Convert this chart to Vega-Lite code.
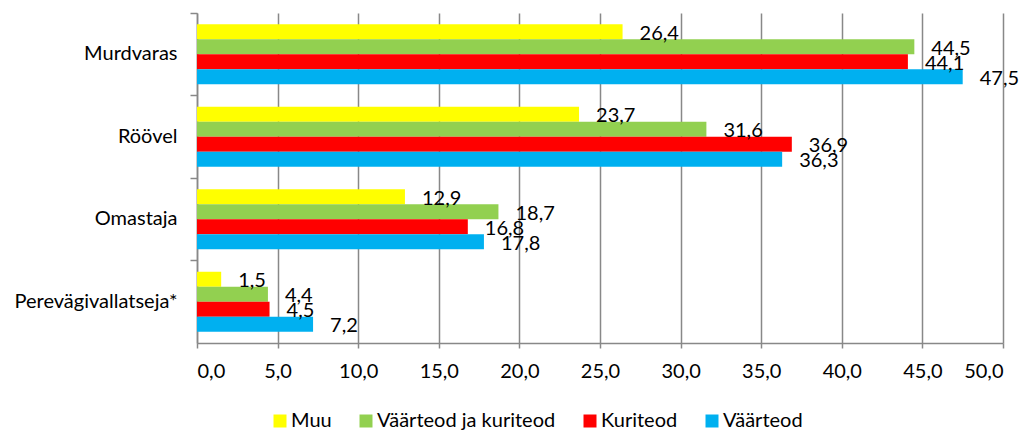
{
  "$schema": "https://vega.github.io/schema/vega-lite/v6.json",
  "width": 806,
  "height": 330,
  "autosize": "none",
  "padding": {"left": 197, "top": 13, "right": 22, "bottom": 88},
  "background": "white",
  "config": {
    "view": {"stroke": null},
    "font": "Lato",
    "locale": {"number": {"decimal": ",", "thousands": " ", "grouping": [3], "currency": ["", " €"]}}
  },
  "data": {
    "values": [
      {"cat": "Murdvaras", "series": "Muu", "value": 26.4},
      {"cat": "Murdvaras", "series": "Väärteod ja kuriteod", "value": 44.5},
      {"cat": "Murdvaras", "series": "Kuriteod", "value": 44.1},
      {"cat": "Murdvaras", "series": "Väärteod", "value": 47.5},
      {"cat": "Röövel", "series": "Muu", "value": 23.7},
      {"cat": "Röövel", "series": "Väärteod ja kuriteod", "value": 31.6},
      {"cat": "Röövel", "series": "Kuriteod", "value": 36.9},
      {"cat": "Röövel", "series": "Väärteod", "value": 36.3},
      {"cat": "Omastaja", "series": "Muu", "value": 12.9},
      {"cat": "Omastaja", "series": "Väärteod ja kuriteod", "value": 18.7},
      {"cat": "Omastaja", "series": "Kuriteod", "value": 16.8},
      {"cat": "Omastaja", "series": "Väärteod", "value": 17.8},
      {"cat": "Perevägivallatseja*", "series": "Muu", "value": 1.5},
      {"cat": "Perevägivallatseja*", "series": "Väärteod ja kuriteod", "value": 4.4},
      {"cat": "Perevägivallatseja*", "series": "Kuriteod", "value": 4.5},
      {"cat": "Perevägivallatseja*", "series": "Väärteod", "value": 7.2}
    ]
  },
  "encoding": {
    "y": {
      "field": "cat",
      "type": "nominal",
      "sort": ["Murdvaras", "Röövel", "Omastaja", "Perevägivallatseja*"],
      "scale": {"paddingInner": 0, "paddingOuter": 0},
      "axis": {
        "title": null,
        "bandPosition": 0,
        "domainColor": "#888888",
        "domainWidth": 1.5,
        "tickColor": "#888888",
        "tickWidth": 1.5,
        "tickSize": 7,
        "labelPadding": 13,
        "labelFontSize": 20,
        "labelColor": "#000000",
        "labelFont": "Lato",
        "labelLimit": 300,
        "grid": false
      }
    },
    "yOffset": {
      "field": "series",
      "type": "nominal",
      "sort": ["Muu", "Väärteod ja kuriteod", "Kuriteod", "Väärteod"],
      "scale": {"paddingInner": 0, "paddingOuter": 0.75}
    },
    "x": {
      "field": "value",
      "type": "quantitative",
      "scale": {"domain": [0, 50], "nice": false},
      "axis": {
        "title": null,
        "values": [0, 5, 10, 15, 20, 25, 30, 35, 40, 45, 50],
        "format": ".1f",
        "grid": true,
        "gridColor": "#888888",
        "gridWidth": 1.5,
        "domainColor": "#888888",
        "domainWidth": 1.5,
        "tickColor": "#888888",
        "tickWidth": 1.5,
        "tickSize": 5,
        "labelPadding": 13,
        "labelFontSize": 20,
        "labelColor": "#000000",
        "labelFont": "Lato"
      }
    }
  },
  "layer": [
    {
      "mark": {"type": "bar"},
      "encoding": {
        "color": {
          "field": "series",
          "type": "nominal",
          "scale": {
            "domain": ["Muu", "Väärteod ja kuriteod", "Kuriteod", "Väärteod"],
            "range": ["#FFFF00", "#92D050", "#FF0000", "#00B0F0"]
          },
          "legend": {
            "title": null,
            "orient": "none",
            "direction": "horizontal",
            "legendX": 73,
            "legendY": 398,
            "symbolType": "square",
            "symbolSize": 169,
            "symbolStrokeWidth": 0,
            "labelFontSize": 20,
            "labelFont": "Lato",
            "labelColor": "#000000",
            "labelOffset": 1,
            "labelLimit": 400,
            "columnPadding": 24,
            "padding": 0
          }
        }
      }
    },
    {
      "mark": {"type": "text", "align": "left", "baseline": "middle", "dx": 17, "dy": 2, "fontSize": 20, "font": "Lato", "color": "#000000"},
      "encoding": {
        "text": {"field": "value", "type": "quantitative", "format": ".1f"}
      }
    }
  ]
}
